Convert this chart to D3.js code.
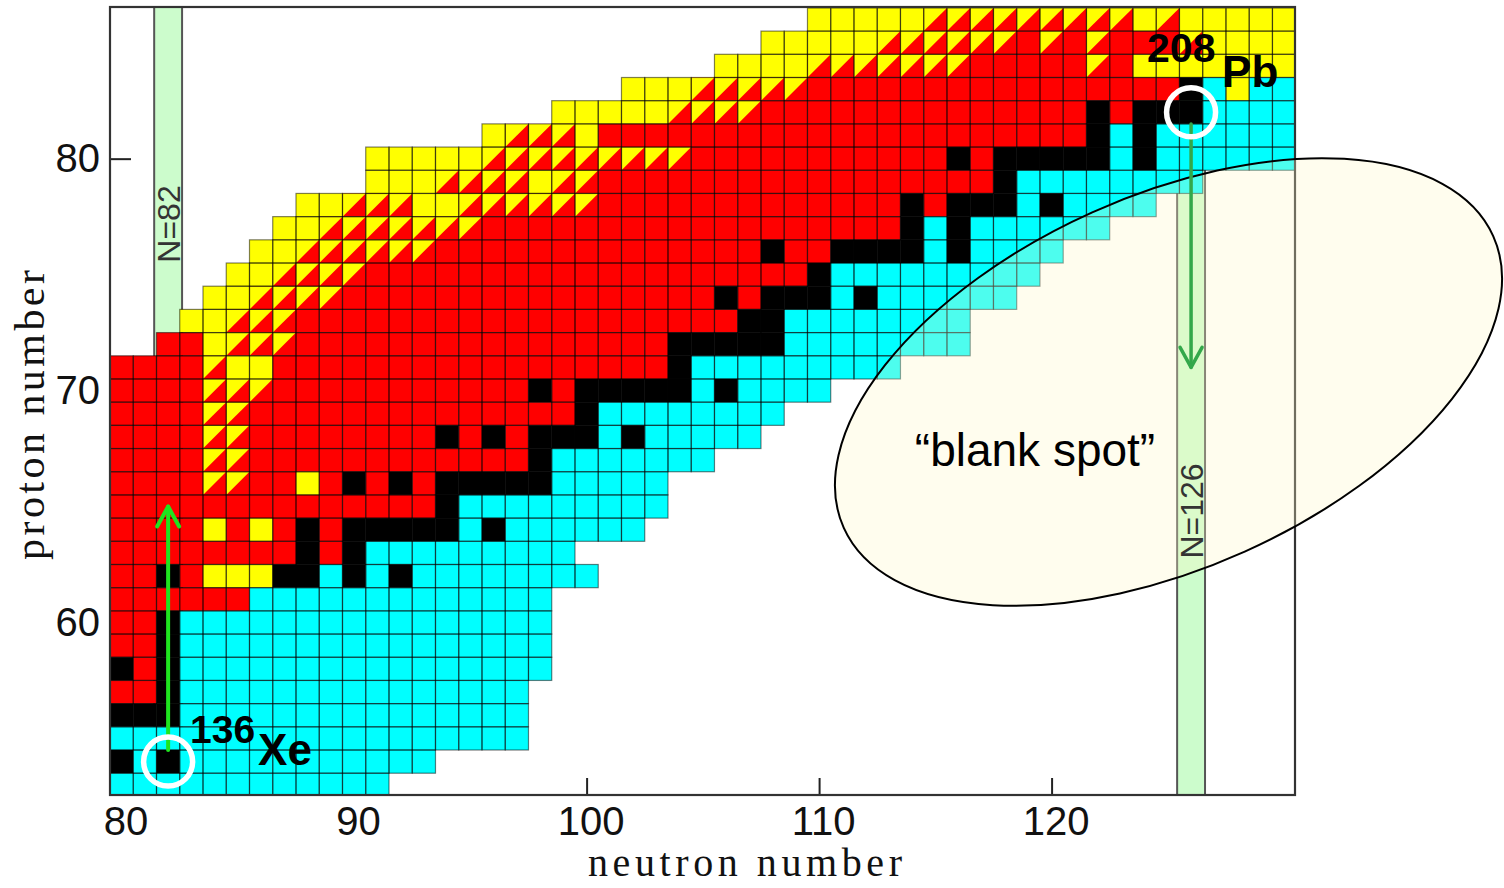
<!DOCTYPE html>
<html>
<head>
<meta charset="utf-8">
<script src="https://cdn.jsdelivr.net/npm/d3@7"></script>
<style>
  body { margin: 0; background: #fff; }
  svg { display: block; }
</style>
</head>
<body>
<svg id="chart" width="1504" height="888"></svg>
<script>
// ---- data -------------------------------------------------------------
const neutronTicks = [80, 90, 100, 110, 120];
const protonTicks = [60, 70, 80];
const firstNeutron = 80;          // N of the first column
const topProton = 86;             // Z of the first row
// decay mode per nuclide, one run-length row per Z (86 down to 53), N = 80..130
// . none  Y alpha  R EC/beta+  C beta-  K stable  T mixed alpha + EC
const decayRuns = [
  "30. 5Y 9T Y T 5Y",                       // 86
  "28. 5Y 6T R T R T 3R T 4Y",              // 85
  "26. 4Y 7T 5R T R 7Y",                    // 84
  "22. 3Y 5T 16R K C Y 2C",                 // 83
  "19. 5Y 4T 14R K R 3K 4C",                // 82
  "16. Y 3T Y 21R K C K 6C",                // 81
  "11. 5Y 9T 11R K R 5K C K 6C",            // 80
  "11. 3Y 4T Y 2T 17R K 8C 4.",             // 79
  "8. 2Y 3T 2Y 6T 13R K R 3K C K 4C 6.",    // 78
  "7. 2Y 7T 18R K C K 6C 8.",               // 77
  "6. 2Y 6T 14R K 2R 4K C K 4C 10.",        // 76
  "5. 2Y 4T 19R K 9C 11.",                  // 75
  "4. 2Y 4T 16R K R 3K C K 6C 12.",         // 74
  "3. 2Y 3T 19R 2K 8C 14.",                 // 73
  "2. 2R Y 3T 16R 5K 8C 14.",               // 72
  "4R T 2Y 17R K 9C 17.",                   // 71
  "4R 3T 11R K R 5K C K 4C 20.",            // 70
  "4R 2T 14R K 8C 22.",                     // 69
  "4R 2T 8R K R K R 3K C K 5C 23.",         // 68
  "4R 2T 12R K 7C 25.",                     // 67
  "4R 2T 2R Y R K R K R 5K 5C 27.",         // 66
  "14R K 9C 27.",                           // 65
  "4R Y R Y R K R 5K C K 6C 28.",           // 64
  "8R K R K 9C 31.",                        // 63
  "2R K R 3Y 2K C K C K 8C 30.",            // 62
  "6R 13C 32.",                             // 61
  "2R K 16C 32.",                           // 60
  "2R K 16C 32.",                           // 59
  "K R K 16C 32.",                          // 58
  "2R K 15C 33.",                           // 57
  "3K 15C 33.",                             // 56
  "18C 33.",                                // 55
  "K C K 11C 37.",                          // 54
  "12C 39."                                 // 53
];
const magicNumbers = [82, 126];
const magicLabels = ["N=82", "N=126"];
const markedN = [82, 126];
const markedZ = [54, 82];
const markedMass = ["136", "208"];
const markedSymbol = ["Xe", "Pb"];
// shell-closure arrows: from Z to Z along N
const arrowN = [82, 126];
const arrowFromZ = [54.5, 81.5];
const arrowToZ = [65, 71];
const blankSpotText = "\u201Cblank spot\u201D";

// ---- layout ------------------------------------------------------------
const plot = { left: 110, right: 1295, top: 7, bottom: 795 };
const modeColor = { Y: "#ffff00", R: "#ff0000", C: "#00ffff", K: "#000000", T: "#ff0000" };
const sans = "'Liberation Sans', Arial, Helvetica, sans-serif";
const serif = "'Liberation Serif', 'Times New Roman', serif";

const x = d3.scaleLinear().domain([79.5, 130.47]).range([plot.left, plot.right]);
const y = d3.scaleLinear().domain([52.56, 86.54]).range([plot.bottom, plot.top]);

// expand run-length rows into nuclide records
const nuclides = [];
decayRuns.forEach((row, i) => {
  const z = topProton - i;
  let n = firstNeutron;
  row.trim().split(/\s+/).forEach(tok => {
    const m = tok.match(/^(\d*)([.YRCKT])$/);
    const count = m[1] ? +m[1] : 1;
    for (let k = 0; k < count; k++, n++) {
      if (m[2] !== ".") nuclides.push({ n, z, mode: m[2] });
    }
  });
});

const svg = d3.select("#chart");
svg.append("defs").append("clipPath").attr("id", "plotClip")
  .append("rect")
  .attr("x", plot.left).attr("y", plot.top)
  .attr("width", plot.right - plot.left).attr("height", plot.bottom - plot.top);

// axes with inward ticks
const yAxis = d3.axisLeft(y).tickValues(protonTicks).tickSize(-21).tickPadding(10);
const xAxis = d3.axisBottom(x).tickValues(neutronTicks).tickSize(-17).tickPadding(12);

const gy = svg.append("g").attr("transform", `translate(${plot.left},0)`).call(yAxis);
const gx = svg.append("g").attr("transform", `translate(0,${plot.bottom})`).call(xAxis);
[gx, gy].forEach(g => {
  g.select(".domain").remove();
  g.selectAll(".tick line").attr("stroke", "#222").attr("stroke-width", 2);
  g.selectAll(".tick text").attr("fill", "#111").style("font-family", sans).style("font-size", "40px");
});
gx.selectAll(".tick text").attr("dx", 4);

const inner = svg.append("g").attr("clip-path", "url(#plotClip)");

// magic-number bands behind the cells
inner.selectAll("rect.band").data(magicNumbers).join("rect")
  .attr("class", "band")
  .attr("x", d => x(d - 0.6))
  .attr("y", plot.top)
  .attr("width", d => x(d + 0.6) - x(d - 0.6))
  .attr("height", plot.bottom - plot.top)
  .attr("fill", "#ccfccc");
inner.selectAll("line.bandEdge").data(magicNumbers.flatMap(d => [d - 0.6, d + 0.6])).join("line")
  .attr("class", "bandEdge")
  .attr("x1", d => x(d)).attr("x2", d => x(d))
  .attr("y1", plot.top).attr("y2", plot.bottom)
  .attr("stroke", "#555").attr("stroke-width", 2);

// nuclide cells
const cellX = d => x(d.n - 0.5);
const cellY = d => y(d.z + 0.5);
const cellW = d => x(d.n + 0.5) - x(d.n - 0.5);
const cellH = d => y(d.z - 0.5) - y(d.z + 0.5);

inner.selectAll("rect.cell").data(nuclides).join("rect")
  .attr("class", "cell")
  .attr("x", cellX).attr("y", cellY)
  .attr("width", cellW).attr("height", cellH)
  .attr("fill", d => modeColor[d.mode]);

// mixed decay: alpha half in the upper-left triangle
inner.selectAll("path.mixed").data(nuclides.filter(d => d.mode === "T")).join("path")
  .attr("class", "mixed")
  .attr("d", d => {
    const x0 = x(d.n - 0.5), x1 = x(d.n + 0.5), y0 = y(d.z + 0.5), y1 = y(d.z - 0.5);
    return `M${x0},${y0}L${x1},${y0}L${x0},${y1}Z`;
  })
  .attr("fill", modeColor.Y);

inner.selectAll("rect.grid").data(nuclides).join("rect")
  .attr("class", "grid")
  .attr("x", cellX).attr("y", cellY)
  .attr("width", cellW).attr("height", cellH)
  .attr("fill", "none")
  .attr("stroke", "#000").attr("stroke-opacity", 0.5).attr("stroke-width", 1.2);

// plot frame
svg.append("rect")
  .attr("x", plot.left).attr("y", plot.top)
  .attr("width", plot.right - plot.left).attr("height", plot.bottom - plot.top)
  .attr("fill", "none").attr("stroke", "#333").attr("stroke-width", 2.2);

// unexplored region
const spot = { cx: 1168.5, cy: 382, rx: 356, ry: 186, angle: -24.2 };
svg.append("ellipse")
  .attr("cx", spot.cx).attr("cy", spot.cy).attr("rx", spot.rx).attr("ry", spot.ry)
  .attr("transform", `rotate(${spot.angle},${spot.cx},${spot.cy})`)
  .attr("fill", "rgb(255,250,200)").attr("fill-opacity", 0.3)
  .attr("stroke", "#000").attr("stroke-width", 2);

svg.append("text")
  .attr("x", 1035).attr("y", 466)
  .attr("text-anchor", "middle")
  .style("font-family", sans).style("font-size", "46px")
  .attr("fill", "#000")
  .text(blankSpotText);

// band labels
const bandLabelY = [224, 511];
magicNumbers.forEach((n, i) => {
  svg.append("text")
    .attr("transform", `translate(${x(n) + 1},${bandLabelY[i]}) rotate(-90)`)
    .attr("text-anchor", "middle").attr("dominant-baseline", "central")
    .style("font-family", sans).style("font-size", "32px")
    .attr("fill", "#333")
    .text(magicLabels[i]);
});

// shell-closure arrows
const arrowColor = ["#1fe51f", "#33a84a"];
const arrowWidth = [4, 3.5];
arrowN.forEach((n, i) => {
  const ax = x(n), y0 = y(arrowFromZ[i]), y1 = y(arrowToZ[i]);
  const dir = y1 < y0 ? 1 : -1;
  const g = svg.append("g").attr("stroke", arrowColor[i]).attr("stroke-width", arrowWidth[i])
    .attr("fill", "none").attr("stroke-linecap", "round").attr("stroke-linejoin", "round");
  g.append("line").attr("x1", ax).attr("x2", ax).attr("y1", y0).attr("y2", y1);
  g.append("path").attr("d", `M${ax - 11},${y1 + dir * 20}L${ax},${y1}L${ax + 11},${y1 + dir * 20}`);
});

// circled nuclei with labels
const massOffset = [[22, -19], [-44, -50]];
const symbolOffset = [[90, 3], [31, -25]];
const massSize = ["39px", "41px"];
markedN.forEach((n, i) => {
  const cx = x(n), cy = y(markedZ[i]);
  svg.append("circle").attr("cx", cx).attr("cy", cy).attr("r", 24.5)
    .attr("fill", "none").attr("stroke", "#fff").attr("stroke-width", 5.5);
  svg.append("text")
    .attr("x", cx + massOffset[i][0]).attr("y", cy + massOffset[i][1])
    .style("font-family", sans).style("font-size", massSize[i]).style("font-weight", "bold")
    .attr("fill", "#000").text(markedMass[i]);
  svg.append("text")
    .attr("x", cx + symbolOffset[i][0]).attr("y", cy + symbolOffset[i][1])
    .style("font-family", sans).style("font-size", "44px").style("font-weight", "bold")
    .attr("fill", "#000").text(markedSymbol[i]);
});

// axis titles
svg.append("text")
  .attr("transform", "translate(44,415) rotate(-90)")
  .attr("text-anchor", "middle")
  .style("font-family", serif).style("font-size", "42px")
  .attr("fill", "#111")
  .attr("textLength", 290).attr("lengthAdjust", "spacing")
  .text("proton  number");
svg.append("text")
  .attr("x", 745).attr("y", 876)
  .attr("text-anchor", "middle")
  .style("font-family", serif).style("font-size", "40px")
  .attr("fill", "#111")
  .attr("textLength", 314).attr("lengthAdjust", "spacing")
  .text("neutron  number");
</script>
</body>
</html>
